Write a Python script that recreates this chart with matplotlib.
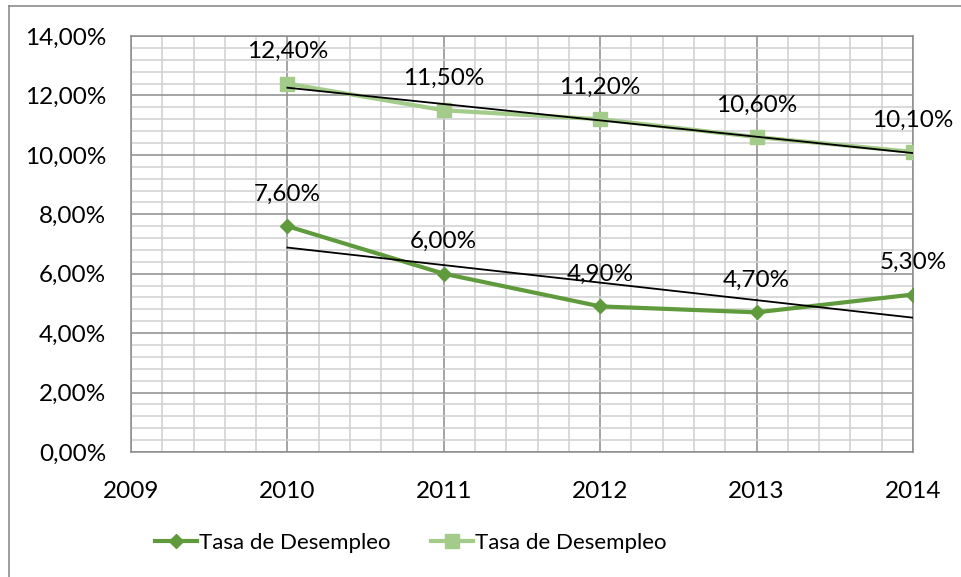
import numpy as np
import matplotlib.pyplot as plt
from matplotlib.ticker import MultipleLocator, FuncFormatter
from matplotlib.lines import Line2D

years = [2010, 2011, 2012, 2013, 2014]
tasa_a = [7.6, 6.0, 4.9, 4.7, 5.3]       # dark green, diamonds
tasa_b = [12.4, 11.5, 11.2, 10.6, 10.1]  # light green, squares
label_a = 'Tasa de Desempleo'
label_b = 'Tasa de Desempleo'

dark = '#5F9B3C'
light = '#A3CB8A'

plt.rcParams['font.family'] = ['Lato', 'DejaVu Sans']
plt.rcParams['font.size'] = 17.5

fig = plt.figure(figsize=(9.61, 5.77), dpi=100)
ax = fig.add_axes([131/961, 1 - 452/577, (913 - 131)/961, (452 - 36)/577])

# frame lines of the chart (left and top visible in the crop)
fig.add_artist(Line2D([9/961, 9/961], [0, 1 - 6/577], color='#8c8c8c', lw=1.2, transform=fig.transFigure))
fig.add_artist(Line2D([9/961, 1], [1 - 6/577, 1 - 6/577], color='#8c8c8c', lw=1.2, transform=fig.transFigure))

ax.set_xlim(2009, 2014)
ax.set_ylim(0, 14)
ax.xaxis.set_major_locator(MultipleLocator(1))
ax.xaxis.set_minor_locator(MultipleLocator(0.2))
ax.yaxis.set_major_locator(MultipleLocator(2))
ax.yaxis.set_minor_locator(MultipleLocator(0.4))
ax.yaxis.set_major_formatter(FuncFormatter(lambda v, p: ('%.2f%%' % v).replace('.', ',')))
ax.xaxis.set_major_formatter(FuncFormatter(lambda v, p: '%d' % round(v)))

ax.grid(which='major', color='#8c8c8c', lw=1.1)
ax.grid(which='minor', color='#d0d0d0', lw=1.1)
ax.set_axisbelow(True)
for s in ax.spines.values():
    s.set_color('#8c8c8c')
    s.set_linewidth(1.1)
ax.tick_params(which='both', length=0)
ax.tick_params(axis='y', pad=18)
ax.tick_params(axis='x', pad=21)

x = np.array(years)
# linear trendlines
for vals in (tasa_b, tasa_a):
    m, b = np.polyfit(x, vals, 1)
    ax.plot(x, m * x + b, color='black', lw=1.3, zorder=4)

ax.plot(years, tasa_a, color=dark, lw=3, marker='D', ms=6.8, label=label_a, zorder=3)
ax.plot(years, tasa_b, color=light, lw=3, marker='s', ms=10, label=label_b, zorder=3)

for vals in (tasa_a, tasa_b):
    for xi, yi in zip(years, vals):
        ax.annotate(('%.2f%%' % yi).replace('.', ','), (xi, yi), xytext=(0, 23),
                    textcoords='offset points', ha='center', va='center')

fig.legend(loc='center', bbox_to_anchor=(411/961, 1 - 543/577), ncol=2, frameon=False,
           fontsize=16, handlelength=1.9, columnspacing=1.8, handletextpad=0.1)

fig.savefig('out.png', dpi=100)
